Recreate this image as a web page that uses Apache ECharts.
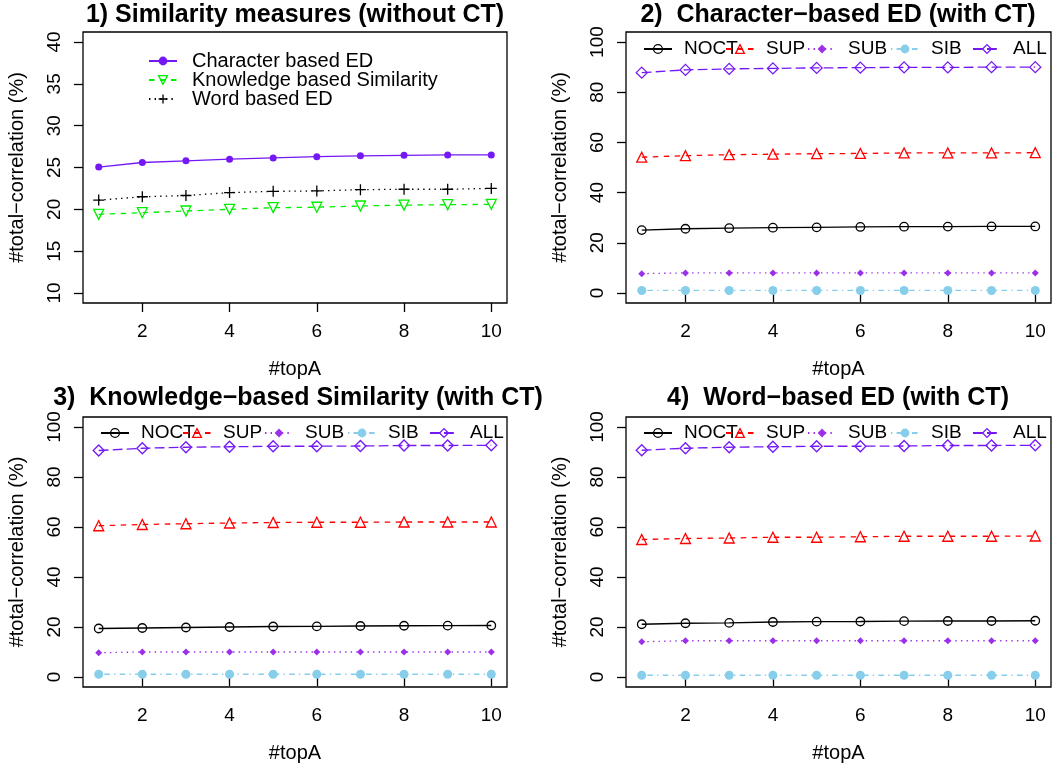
<!DOCTYPE html>
<html><head><meta charset="utf-8">
<script src="https://cdn.jsdelivr.net/npm/echarts@6/dist/echarts.min.js"></script>
<style>html,body{margin:0;padding:0;background:#fff}#c{width:1059px;height:769px}</style>
</head><body><div id="c"></div>
<script>
// ---- data ----
const topA = [1, 2, 3, 4, 5, 6, 7, 8, 9, 10];
const xTicks = [2, 4, 6, 8, 10];
const yTicks1 = [10, 15, 20, 25, 30, 35, 40];
const yTicks = [0, 20, 40, 60, 80, 100];
const panelTitles = [
  '1) Similarity measures (without CT)',
  '2)  Character\u2212based ED (with CT)',
  '3)  Knowledge\u2212based Similarity (with CT)',
  '4)  Word\u2212based ED (with CT)'
];
const xName = '#topA';
const yName = '#total\u2212correlation (%)';
const p1Names = ['Character based ED', 'Knowledge based Similarity', 'Word based ED'];
const ctNames = ['NOCT', 'SUP', 'SUB', 'SIB', 'ALL'];

// panel 1
const p1Char = [25.05, 25.6, 25.8, 26.0, 26.15, 26.3, 26.4, 26.45, 26.5, 26.5];
const p1Know = [19.4, 19.6, 19.8, 20.0, 20.2, 20.25, 20.4, 20.5, 20.55, 20.6];
const p1Word = [21.1, 21.5, 21.65, 22.0, 22.15, 22.2, 22.35, 22.4, 22.4, 22.5];
// panel 2 (Character-based ED with CT)
const p2NOCT = [25.05, 25.6, 25.8, 26.0, 26.15, 26.3, 26.4, 26.45, 26.5, 26.5];
const p2SUP = [54.1, 54.7, 55.1, 55.3, 55.5, 55.6, 55.8, 55.8, 55.8, 55.9];
const p2SUB = [7.7, 8.0, 8.0, 8.0, 8.0, 8.0, 8.0, 8.0, 8.0, 8.0];
const p2SIB = [1.0, 1.0, 1.0, 1.0, 1.0, 1.0, 1.0, 1.0, 1.0, 1.0];
const p2ALL = [87.8, 88.9, 89.3, 89.5, 89.7, 89.8, 89.9, 89.9, 90.0, 90.0];
// panel 3 (Knowledge-based Similarity with CT)
const p3NOCT = [19.4, 19.6, 19.8, 20.0, 20.2, 20.25, 20.4, 20.5, 20.55, 20.6];
const p3SUP = [60.5, 61.0, 61.3, 61.6, 61.8, 61.9, 61.9, 62.0, 62.0, 62.0];
const p3SUB = [9.7, 10.0, 10.0, 10.0, 10.0, 10.0, 10.0, 10.0, 10.0, 10.0];
const p3SIB = [1.1, 1.1, 1.1, 1.1, 1.1, 1.1, 1.1, 1.1, 1.1, 1.1];
const p3ALL = [90.6, 91.5, 91.9, 92.1, 92.3, 92.3, 92.4, 92.6, 92.6, 92.7];
// panel 4 (Word-based ED with CT)
const p4NOCT = [21.1, 21.5, 21.65, 22.0, 22.15, 22.2, 22.35, 22.4, 22.4, 22.5];
const p4SUP = [55.0, 55.4, 55.6, 55.9, 55.9, 56.1, 56.3, 56.3, 56.3, 56.4];
const p4SUB = [14.1, 14.5, 14.5, 14.5, 14.5, 14.5, 14.5, 14.5, 14.5, 14.5];
const p4SIB = [0.7, 0.7, 0.7, 0.7, 0.7, 0.7, 0.7, 0.7, 0.7, 0.7];
const p4ALL = [90.7, 91.5, 91.9, 92.1, 92.3, 92.3, 92.4, 92.6, 92.6, 92.7];

// ---- styles ----
const FONT = 'Liberation Sans, Arial, Helvetica, sans-serif';
const LW = 1.3;
const TRANSP = 'rgba(0,0,0,0)';
const PLUS = 'path://M5,0 L5,10 M0,5 L10,5';
const dash = { solid: 'solid', dashed: [5.5, 5.5], dotted: [1.4, 4.2], dotdash: [1.4, 4.2, 5.6, 4.2], longdash: [9.8, 4.2] };
const styles = {
  'Character based ED': { color: '#7419F5', lt: 'solid', symbol: 'circle', size: 7, fill: true },
  'Knowledge based Similarity': { color: '#00EE00', lt: 'dashed', symbol: 'triangle', size: 10, fill: false, rot: 180 },
  'Word based ED': { color: '#000000', lt: 'dotted', symbol: PLUS, size: 11, fill: false },
  'NOCT': { color: '#000000', lt: 'solid', symbol: 'circle', size: 8.5, fill: false },
  'SUP': { color: '#FF0000', lt: 'dashed', symbol: 'triangle', size: 10, fill: false },
  'SUB': { color: '#9B30E8', lt: 'dotted', symbol: 'diamond', size: 7, fill: true },
  'SIB': { color: '#87CEEB', lt: 'dotdash', symbol: 'circle', size: 9, fill: true },
  'ALL': { color: '#7419F5', lt: 'longdash', symbol: 'diamond', size: 11, fill: false }
};
function itemStyleOf(s) {
  return s.fill ? { color: s.color, borderWidth: 0 } : { color: TRANSP, borderColor: s.color, borderWidth: LW };
}

const grids = [
  { left: 83, top: 32, width: 424, height: 271 },
  { left: 626, top: 32, width: 425, height: 271 },
  { left: 83, top: 417, width: 424, height: 270 },
  { left: 626, top: 417, width: 425, height: 270 }
];

function mkSeries(name, values, idx) {
  const s = styles[name];
  return {
    type: 'line', name: name, xAxisIndex: idx, yAxisIndex: idx,
    data: topA.map((x, i) => [x, values[i]]),
    symbol: s.symbol, symbolSize: s.size, symbolRotate: s.rot || 0, showAllSymbol: true,
    lineStyle: { color: s.color, width: LW, type: dash[s.lt] },
    itemStyle: itemStyleOf(s),
    emphasis: { disabled: true }, animation: false, z: 3
  };
}

const series = [
  mkSeries('Character based ED', p1Char, 0),
  mkSeries('Knowledge based Similarity', p1Know, 0),
  mkSeries('Word based ED', p1Word, 0),
  mkSeries('NOCT', p2NOCT, 1), mkSeries('SUP', p2SUP, 1), mkSeries('SUB', p2SUB, 1), mkSeries('SIB', p2SIB, 1), mkSeries('ALL', p2ALL, 1),
  mkSeries('NOCT', p3NOCT, 2), mkSeries('SUP', p3SUP, 2), mkSeries('SUB', p3SUB, 2), mkSeries('SIB', p3SIB, 2), mkSeries('ALL', p3ALL, 2),
  mkSeries('NOCT', p4NOCT, 3), mkSeries('SUP', p4SUP, 3), mkSeries('SUB', p4SUB, 3), mkSeries('SIB', p4SIB, 3), mkSeries('ALL', p4ALL, 3)
];

const xAxes = grids.map((g, i) => ({
  type: 'value', gridIndex: i, min: 0.64, max: 10.36,
  name: xName, nameLocation: 'middle', nameGap: 56,
  nameTextStyle: { fontSize: 20, color: '#000', fontFamily: FONT },
  axisLine: { show: false },
  axisTick: { show: true, length: 9, customValues: xTicks, lineStyle: { color: '#000', width: LW } },
  axisLabel: { customValues: xTicks, fontSize: 19, color: '#000', fontFamily: FONT, margin: 19 },
  splitLine: { show: false }
}));
const yAxes = grids.map((g, i) => {
  const t = i === 0 ? yTicks1 : yTicks;
  return {
    type: 'value', gridIndex: i,
    min: i === 0 ? 8.8 : -4, max: i === 0 ? 41.2 : 104,
    name: yName, nameLocation: 'middle', nameGap: 56,
    nameTextStyle: { fontSize: 20, color: '#000', fontFamily: FONT },
    axisLine: { show: false },
    axisTick: { show: true, length: 9, customValues: t, lineStyle: { color: '#000', width: LW } },
    axisLabel: { customValues: t, fontSize: 19, color: '#000', fontFamily: FONT, rotate: 90, margin: 19 },
    splitLine: { show: false }
  };
});

const titleCenters = [[295, 3], [838, 3], [298, 386], [838, 386]];
const titles = panelTitles.map((t, i) => ({
  text: t, left: titleCenters[i][0], top: titleCenters[i][1], textAlign: 'center', padding: 0,
  textStyle: { fontSize: 25, fontWeight: 'bold', color: '#000', fontFamily: FONT }
}));

function mkLegend(name, left, top, pad, fs) {
  const s = styles[name];
  return {
    data: [{ name: name, itemStyle: itemStyleOf(s) }], left: left, top: top, orient: 'horizontal', padding: 0,
    itemWidth: 28, itemHeight: 11, itemGap: 0, selectedMode: false,
    itemStyle: itemStyleOf(s),
    textStyle: { fontSize: fs, color: '#000', fontFamily: FONT, padding: [0, 0, 0, pad], lineHeight: 20 }
  };
}
const legends = [];
[51, 70, 89].forEach((t, i) => legends.push(mkLegend(p1Names[i], 148, t, 10, 20)));
const ctLeft = [643, 725, 807, 890, 972];
ctNames.forEach((n, i) => legends.push(mkLegend(n, ctLeft[i], 39, 7, 19)));
ctNames.forEach((n, i) => legends.push(mkLegend(n, ctLeft[i], 423, 7, 19)));
ctNames.forEach((n, i) => legends.push(mkLegend(n, ctLeft[i] - 543, 423, 7, 19)));

const chart = echarts.init(document.getElementById('c'), null, { renderer: 'canvas' });
chart.setOption({
  backgroundColor: '#fff',
  animation: false,
  title: titles,
  legend: legends,
  grid: grids.map(g => Object.assign({ show: true, borderColor: '#000', borderWidth: LW, backgroundColor: TRANSP, containLabel: false, outerBoundsMode: 'none' }, g)),
  xAxis: xAxes,
  yAxis: yAxes,
  series: series
});
</script></body></html>
